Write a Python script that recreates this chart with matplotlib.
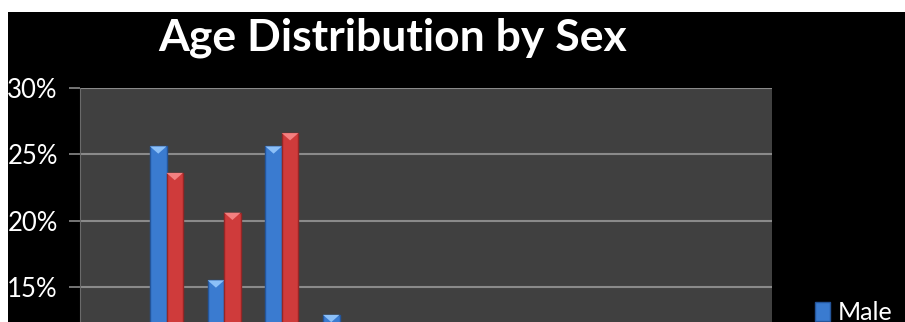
"""Age distribution by sex - clustered bar chart (cropped view)."""

import matplotlib

matplotlib.use("Agg")
import matplotlib.pyplot as plt
import numpy as np
from matplotlib.patches import Polygon, Rectangle

plt.rcParams["font.family"] = ["Lato", "DejaVu Sans"]

# data (percent); only the upper part of the chart is visible
age_groups = ["0-9", "10-19", "20-29", "30-39", "40-49", "50-59",
              "60-69", "70-79", "80-89", "90-99", "100+", "n/a"]
male = [9.5, 25.6, 15.5, 25.6, 12.9, 5.5, 3.0, 1.5, 0.8, 0.3, 0.1, 0.0]
female = [8.5, 23.6, 20.6, 26.6, 10.5, 5.0, 2.5, 1.5, 0.8, 0.5, 0.2, 0.1]
yticks = [15, 20, 25, 30]  # lower ticks fall outside the visible crop

W, H = 905, 322
fig = plt.figure(figsize=(W / 100, H / 100), dpi=100, facecolor="white")
# black chart background with thin white margin at top/left
fig.patches.append(Rectangle((8 / W, 0), 1, 1 - 12 / H, transform=fig.transFigure,
                             facecolor="black", edgecolor="none", zorder=-10))

top_px, zero_px = 88, 486
ax = fig.add_axes([80 / W, 1 - zero_px / H, 692 / W, (zero_px - top_px) / H])
ax.set_facecolor("#404040")

x = np.arange(len(age_groups))
bw = 0.286
styles = [
    (male, -bw / 2, "#3a7bd0", "#24559a", "#8cc0f8", "Male"),
    (female, bw / 2, "#cf3b3b", "#952626", "#f48080", "Female"),
]
handles = []
for vals, off, col, dark, light, lab in styles:
    bars = ax.bar(x + off, vals, bw, color=col, edgecolor=dark, linewidth=1.0,
                  zorder=3, label=lab)
    handles.append(bars)
    # bevel triangle on top of each bar
    for r in bars:
        bx, bh, bwid = r.get_x(), r.get_height(), r.get_width()
        if bh <= 0:
            continue
        tri = Polygon([(bx, bh), (bx + bwid, bh), (bx + bwid / 2, bh - 0.55)],
                      closed=True, facecolor=light, edgecolor="none", zorder=4)
        ax.add_patch(tri)

ax.set_xlim(-0.5, len(age_groups) - 0.5)
ax.set_ylim(0, 30)
ax.set_yticks(yticks)
ax.set_yticklabels([f"{v}%" for v in yticks])
ax.set_xticks([])
ax.grid(axis="y", color="#8a8a8a", linewidth=1.5, zorder=1)
ax.tick_params(axis="y", colors="#8a8a8a", labelcolor="white", labelsize=18.5,
               length=8, width=1.2, pad=8)
for s in ["top", "right", "bottom"]:
    ax.spines[s].set_visible(False)
ax.spines["left"].set_color("#6a6a6a")

fig.text(393 / W, 1 - 50 / H, "Age Distribution by Sex", color="white",
         fontsize=32, fontweight="bold", ha="center", va="baseline")

fig.legend(handles, ["Male", "Female"], loc="upper left",
           bbox_to_anchor=(815 / W, 1 - 301 / H), frameon=False, fontsize=18,
           labelcolor="white", handlelength=0.6, handleheight=0.8,
           handletextpad=0.3, borderpad=0, borderaxespad=0)

fig.savefig("out.png", dpi=100, facecolor=fig.get_facecolor())
plt.close()
